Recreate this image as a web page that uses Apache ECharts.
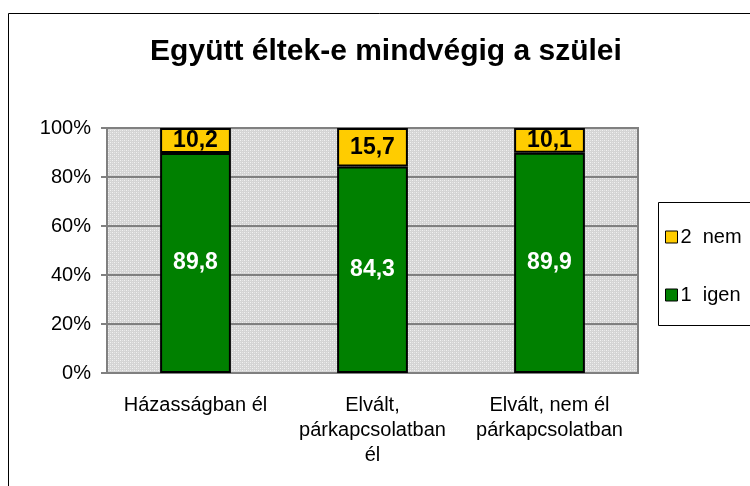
<!DOCTYPE html>
<html>
<head>
<meta charset="utf-8">
<script src="https://cdn.jsdelivr.net/npm/echarts@6/dist/echarts.min.js"></script>
<style>
  html, body { margin: 0; padding: 0; background: #fff; }
  #chart-view { width: 750px; height: 486px; }
</style>
</head>
<body>
<div id="chart-view"></div>
<script>
  // adatok
  let categories = ['Házasságban él', 'Elvált,\npárkapcsolatban\nél', 'Elvált, nem él\npárkapcsolatban']
  let igen = [89.8, 84.3, 89.9]
  let nem = [10.2, 15.7, 10.1]
  let yTicks = [0, 20, 40, 60, 80, 100]

  // pontozott szürke háttér minta
  let pat = document.createElement('canvas')
  pat.width = 4
  pat.height = 4
  let pc = pat.getContext('2d')
  pc.fillStyle = '#d4d4d4'
  pc.fillRect(0, 0, 4, 4)
  pc.fillStyle = '#f2f2f2'
  pc.fillRect(0, 0, 1, 1)
  pc.fillRect(2, 2, 1, 1)
  pc.fillStyle = '#e4e4e4'
  pc.fillRect(2, 0, 1, 1)
  pc.fillRect(0, 2, 1, 1)

  let chartLine = echarts.init(document.getElementById('chart-view'))
  let font = 'Arial, "Liberation Sans", sans-serif'
  let fmt = p => String(p.value).replace('.', ',')

  let option = {
    animation: false,
    textStyle: { fontFamily: font },
    title: {
      text: 'Együtt éltek-e mindvégig a szülei',
      left: 381,
      textAlign: 'center',
      top: 32,
      textStyle: { fontSize: 30, fontWeight: 'bold', color: '#000', fontFamily: font }
    },
    graphic: [
      {
        type: 'rect',
        shape: { x: 8.5, y: 13.5, width: 760, height: 490 },
        style: { fill: 'none', stroke: '#000', lineWidth: 1 },
        z: -1
      },
      {
        type: 'rect',
        shape: { x: 658.5, y: 202.5, width: 110, height: 123 },
        style: { fill: '#fff', stroke: '#000', lineWidth: 1 },
        z: 0
      }
    ],
    legend: {
      left: 660,
      top: 222,
      orient: 'vertical',
      itemGap: 38,
      itemWidth: 12,
      itemHeight: 12,
      icon: 'rect',
      data: ['2  nem', '1  igen'],
      textStyle: { fontSize: 20, color: '#000', fontFamily: font, padding: [0, 0, 0, -2] },
      itemStyle: { borderColor: '#000', borderWidth: 1 },
      z: 5
    },
    color: ['#008000', '#FFCC00'],
    grid: {
      left: 107,
      top: 128,
      width: 531,
      height: 245,
      show: true,
      backgroundColor: { image: pat, repeat: 'repeat' },
      borderColor: '#808080',
      borderWidth: 2
    },
    xAxis: {
      type: 'category',
      data: categories,
      axisLine: { lineStyle: { color: '#808080', width: 2 } },
      axisTick: { length: 6, lineStyle: { color: '#808080', width: 2 } },
      axisLabel: { fontSize: 20, color: '#000', lineHeight: 25, margin: 20, interval: 0, fontFamily: font }
    },
    yAxis: {
      type: 'value',
      min: 0,
      max: 100,
      interval: 20,
      axisLine: { show: true, lineStyle: { color: '#808080', width: 2 } },
      axisTick: { show: true, length: 6, lineStyle: { color: '#808080', width: 2 } },
      splitLine: { lineStyle: { color: '#808080', width: 2 } },
      axisLabel: {
        fontSize: 20, color: '#000', margin: 16, fontFamily: font,
        formatter: v => yTicks.includes(v) ? v + '%' : ''
      }
    },
    series: [
      {
        name: '1  igen',
        type: 'bar',
        stack: 'total',
        data: igen,
        barWidth: '40%',
        itemStyle: { color: '#008000', borderColor: '#000', borderWidth: 2 },
        label: { show: true, position: 'inside', formatter: fmt, color: '#fff', fontSize: 23, fontWeight: 'bold', fontFamily: font }
      },
      {
        name: '2  nem',
        type: 'bar',
        stack: 'total',
        data: nem,
        barWidth: '40%',
        itemStyle: { color: '#FFCC00', borderColor: '#000', borderWidth: 2 },
        label: { show: true, position: 'inside', formatter: fmt, color: '#000', fontSize: 23, fontWeight: 'bold', fontFamily: font }
      }
    ]
  }

  chartLine.setOption(option)
</script>
</body>
</html>
